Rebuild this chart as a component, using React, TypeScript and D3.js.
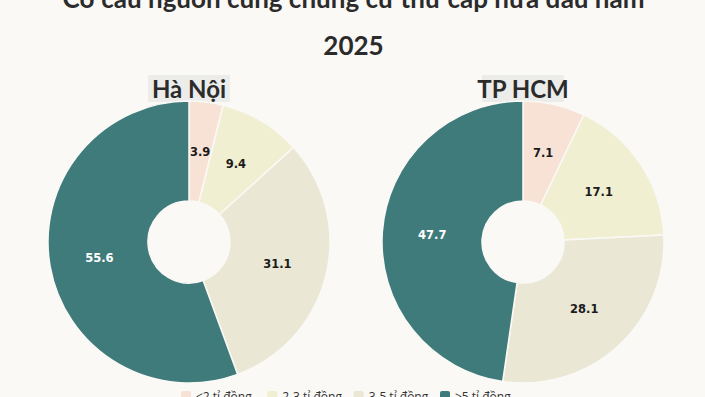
import * as d3 from 'd3';
import React from 'react';

const categories = ['<2 tỉ đồng', '2-3 tỉ đồng', '3-5 tỉ đồng', '>5 tỉ đồng'];
const colors = ['#f8e2d6', '#f0efd1', '#eae8d5', '#3f7b7b'];
const labelColors = ['#1b1b1b', '#1b1b1b', '#1b1b1b', '#ffffff'];

const cities = ['Hà Nội', 'TP HCM'];
const haNoiValues = [3.9, 9.4, 31.1, 55.6];
const hcmValues = [7.1, 17.1, 28.1, 47.7];

const titleLines = ['Cơ cấu nguồn cung chung cư thứ cấp nửa đầu năm', '2025'];

const width = 705;
const height = 397;
const bg = '#faf9f6';

interface DonutProps {
  cx: number;
  cy: number;
  values: number[];
  name: string;
}

const Donut: React.FC<DonutProps> = ({ cx, cy, values, name }) => {
  const outer = 141;
  const inner = 41;
  const pie = d3.pie<number>().sort(null).value((d) => d);
  const arc = d3.arc<d3.PieArcDatum<number>>().innerRadius(inner).outerRadius(outer);
  const arcs = pie(values);
  const boxW = name.length * 12 + 10;

  return (
    <g>
      <rect x={cx - boxW / 2} y={75} width={boxW} height={27} fill="#ececea" />
      <text
        x={cx}
        y={89}
        dy="0.36em"
        textAnchor="middle"
        fontSize={24}
        fontWeight={700}
        fill="#2b2b2b"
        fontFamily="Lato, 'Open Sans', sans-serif"
      >
        {name}
      </text>
      <g transform={`translate(${cx},${cy})`}>
        {arcs.map((a, i) => (
          <path key={i} d={arc(a) || ''} fill={colors[i]} stroke={bg} strokeWidth={1.5} />
        ))}
        {arcs.map((a, i) => {
          const [x, y] = arc.centroid(a);
          return (
            <text
              key={`l-${i}`}
              x={x}
              y={y}
              dy="0.35em"
              textAnchor="middle"
              fontSize={11.5}
              fontWeight={700}
              fill={labelColors[i]}
              fontFamily="'DejaVu Sans', sans-serif"
            >
              {a.data}
            </text>
          );
        })}
      </g>
    </g>
  );
};

const App: React.FC = () => {
  const legendX = d3.scalePoint<string>().domain(categories).range([181, 440]);

  return (
    <div style={{ position: 'fixed', left: 0, top: 0 }}>
      <svg width={width} height={height} style={{ display: 'block', background: bg }}>
        {titleLines.map((t, i) => (
          <text
            key={t}
            x={width / 2 + 1}
            y={8 + i * 47}
            textAnchor="middle"
            fontSize={26}
            fontWeight={700}
            fill="#2b2b2b"
            fontFamily="Lato, 'Open Sans', sans-serif"
          >
            {t}
          </text>
        ))}
        <Donut cx={189} cy={242} values={haNoiValues} name={cities[0]} />
        <Donut cx={523} cy={242} values={hcmValues} name={cities[1]} />
        {categories.map((c, i) => {
          const x = legendX(c) ?? 0;
          return (
            <g key={c} transform={`translate(${x},391)`}>
              <rect x={0} y={0} width={10} height={10} rx={2} fill={colors[i]} />
              <text
                x={15}
                y={6}
                dy="0.35em"
                fontSize={12}
                fill="#333"
                fontFamily="'Open Sans', sans-serif"
              >
                {c}
              </text>
            </g>
          );
        })}
      </svg>
    </div>
  );
};

export default App;
